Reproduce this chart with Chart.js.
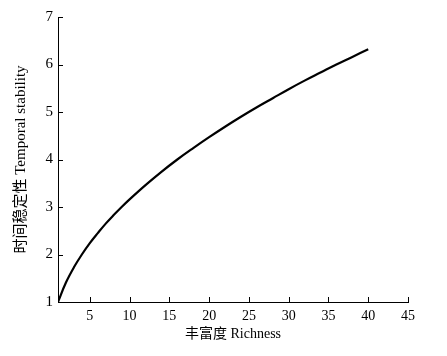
<!DOCTYPE html>
<html>
<head>
<meta charset="utf-8">
<script src="https://cdn.jsdelivr.net/npm/chart.js@4"></script>
<style>
  html, body { margin: 0; padding: 0; background: #fff; }
  #wrap { width: 447px; height: 356px; }
</style>
</head>
<body>
<div id="wrap"><canvas id="stabilityChart" width="447" height="356"></canvas></div>
<script>
// richness (x) and temporal stability (y)
const richness = [1, 2, 3, 4, 5, 6, 7, 8, 9, 10, 12, 14, 16, 18, 20, 22, 24, 26, 28, 30, 32, 34, 36, 38, 40];
const stability = [1.0, 1.41, 1.73, 2.0, 2.24, 2.45, 2.65, 2.83, 3.0, 3.16, 3.46, 3.74, 4.0, 4.24, 4.47, 4.69, 4.9, 5.1, 5.29, 5.48, 5.66, 5.83, 6.0, 6.16, 6.32];
const xTicks = [5, 10, 15, 20, 25, 30, 35, 40, 45];
const yTicks = [1, 2, 3, 4, 5, 6, 7];

const serif = "'Liberation Serif', 'Noto Sans CJK SC', serif";

// short tick marks pointing into the plot
const innerTicks = {
    id: "innerTicks",
    afterDraw(chart) {
        const c = chart.ctx;
        const xs = chart.scales.x, ys = chart.scales.y;
        c.save();
        c.strokeStyle = "#000";
        c.lineWidth = 1;
        c.beginPath();
        xTicks.forEach(v => {
            const px = Math.round(xs.getPixelForValue(v)) + 0.5;
            c.moveTo(px, ys.bottom);
            c.lineTo(px, ys.bottom - 5);
        });
        yTicks.forEach(v => {
            const py = Math.round(ys.getPixelForValue(v)) + 0.5;
            c.moveTo(xs.left, py);
            c.lineTo(xs.left + 5, py);
        });
        c.stroke();
        c.restore();
    }
};

new Chart(document.getElementById("stabilityChart").getContext("2d"), {
    type: "line",
    data: {
        datasets: [{
            data: richness.map((x, i) => ({ x: x, y: stability[i] })),
            borderColor: "#000",
            borderWidth: 2.2,
            pointRadius: 0,
            tension: 0.4,
            fill: false,
        }],
    },
    options: {
        responsive: false,
        animation: false,
        layout: { padding: { top: 17, right: 39, left: 0, bottom: 0 } },
        plugins: { legend: { display: false }, tooltip: { enabled: false } },
        scales: {
            x: {
                type: "linear",
                min: 1,
                max: 45,
                afterBuildTicks(scale) { scale.ticks = xTicks.map(v => ({ value: v })); },
                afterFit(scale) { scale.height = 54; },
                grid: { display: false, drawTicks: false, tickLength: 0 },
                border: { display: true, color: "#000", width: 1 },
                ticks: { color: "#000", font: { family: serif, size: 14 }, padding: 6, maxRotation: 0 },
                title: { display: true, text: "丰富度 Richness", color: "#000", font: { family: serif, size: 14 }, padding: { top: 0, bottom: 13 } },
            },
            y: {
                type: "linear",
                min: 1,
                max: 7,
                afterBuildTicks(scale) { scale.ticks = yTicks.map(v => ({ value: v })); },
                afterFit(scale) { scale.width = 58; },
                grid: { display: false, drawTicks: false, tickLength: 0 },
                border: { display: true, color: "#000", width: 1 },
                ticks: { color: "#000", font: { family: serif, size: 15 }, padding: 5 },
                title: { display: true, text: "时间稳定性 Temporal stability", color: "#000", font: { family: serif, size: 15 }, padding: { top: 12, bottom: 0 } },
            },
        },
    },
    plugins: [innerTicks],
});
</script>
</body>
</html>
